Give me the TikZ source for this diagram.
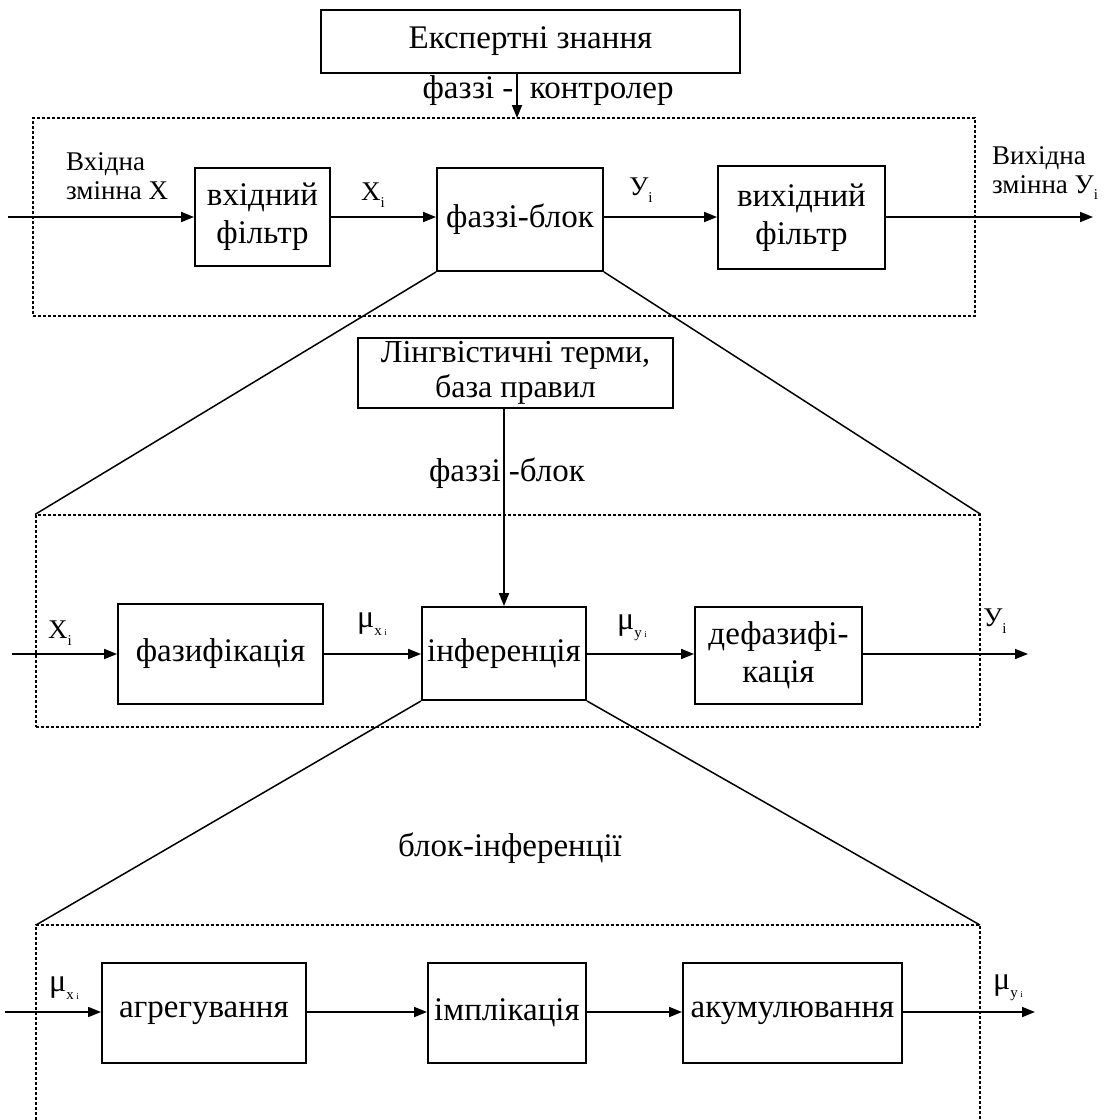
\documentclass[tikz,border=0pt]{standalone}
\usepackage{fontspec}
\setmainfont{Liberation Serif}
\usetikzlibrary{arrows.meta}
\newcommand{\mulab}[1]{{\fontsize{32}{32}\selectfont μ}\raisebox{-0.3em}{\fontsize{15}{15}\selectfont #1\,\fontsize{9}{9}\selectfont i}}
\newcommand{\subi}{\raisebox{-0.25em}{\fontsize{15}{15}\selectfont i}}
\begin{document}
\begin{tikzpicture}[x=1pt,y=-1pt,
  blk/.style={draw,line width=1.9pt,inner sep=0pt,align=center,font=\fontsize{33}{38}\selectfont},
  dbox/.style={draw,line width=1.4pt,dash pattern=on 3pt off 2pt,inner sep=0pt},
  conn/.style={line width=1.8pt,-{Triangle[length=13pt,width=10pt]}},
  plain/.style={line width=1.5pt},
  lbl/.style={inner sep=0pt,align=left,font=\fontsize{27}{29}\selectfont},
  captxt/.style={inner sep=0pt,font=\fontsize{33}{38}\selectfont}]
\useasboundingbox (0,0) rectangle (1110,1120);
% ---- top ----
\node[blk,minimum width=419pt,minimum height=63pt] (ek) at (530.5,41.5) {Експертні знання};
\node[captxt] (ctrl) at (548,91) {фаззі -\ \ контролер};
\node[dbox,minimum width=942pt,minimum height=198pt] (d1) at (504,217) {};
\coordinate (d1a) at (517,118);
\draw[conn] (ek.south -| d1a) -- (d1a);
\node[blk,minimum width=135pt,minimum height=98pt] (vf) at (262.5,217) {вхідний\\фільтр};
\node[blk,minimum width=166pt,minimum height=103pt] (fb) at (520,219.5) {фаззі-блок};
\node[blk,minimum width=167pt,minimum height=103pt] (vyf) at (801.5,217.5) {вихідний\\фільтр};
\coordinate (in1) at (8,217);
\coordinate (out1) at (1093,217);
\draw[conn] (in1) -- (vf.west |- in1);
\draw[conn] (vf.east |- in1) -- (fb.west |- in1);
\draw[conn] (fb.east |- in1) -- (vyf.west |- in1);
\draw[conn] (vyf.east |- in1) -- (out1);
\node[lbl,anchor=west] (inlab) at (66,176) {Вхідна\\змінна X};
\node[lbl,anchor=west] (outlab) at (992,173) {Вихідна\\змінна У\subi};
\node[lbl] (xi1) at (373,195) {X\subi};
\node[lbl] (yi1) at (641,190) {У\subi};
% ---- middle ----
\node[dbox,minimum width=944pt,minimum height=212pt] (d2) at (508,621) {};
\draw[plain] (fb.south west) -- (d2.north west);
\draw[plain] (fb.south east) -- (d2.north east);
\node[blk,minimum width=315pt,minimum height=70pt,font=\fontsize{32}{35}\selectfont] (lt) at (515.5,373) {Лінгвістичні терми,\\база правил};
\node[captxt] (fblab) at (507,473) {фаззі -блок};
\node[blk,minimum width=205pt,minimum height=100pt] (faz) at (220.5,654) {фазифікація};
\node[blk,minimum width=164pt,minimum height=93pt] (inf) at (504,653.5) {інференція};
\node[blk,minimum width=167pt,minimum height=97pt] (def) at (778.5,655.5) {дефазифі-\\кація};
\draw[conn] (lt.south -| inf.north) -- (inf.north);
\coordinate (in2) at (12,654);
\coordinate (out2) at (1028,654);
\draw[conn] (in2) -- (faz.west |- in2);
\draw[conn] (faz.east |- in2) -- (inf.west |- in2);
\draw[conn] (inf.east |- in2) -- (def.west |- in2);
\draw[conn] (def.east |- in2) -- (out2);
\node[lbl] (xi2) at (60,633) {X\subi};
\node[lbl] (mx2) at (372,624) {\mulab{x}};
\node[lbl] (my2) at (632,628) {\mulab{y}};
\node[lbl] (yi2) at (995,621) {У\subi};
% ---- bottom ----
\coordinate (d3nw) at (36,925);
\coordinate (d3ne) at (980,925);
\draw[line width=1.4pt,dash pattern=on 3pt off 2pt] (36,1130) -- (d3nw) -- (d3ne) -- (980,1130);
\draw[plain] (inf.south west) -- (d3nw);
\draw[plain] (inf.south east) -- (d3ne);
\node[captxt] (bilab) at (510,848) {блок-інференції};
\node[blk,minimum width=204pt,minimum height=100pt] (agr) at (204,1013) {агрегування};
\node[blk,minimum width=158pt,minimum height=100pt] (imp) at (507,1013) {імплікація};
\node[blk,minimum width=219pt,minimum height=100pt] (akum) at (792.5,1013) {акумулювання};
\coordinate (in3) at (5,1012);
\coordinate (out3) at (1035,1012);
\draw[conn] (in3) -- (agr.west |- in3);
\draw[conn] (agr.east |- in3) -- (imp.west |- in3);
\draw[conn] (imp.east |- in3) -- (akum.west |- in3);
\draw[conn] (akum.east |- in3) -- (out3);
\node[lbl] (mx3) at (64,988) {\mulab{x}};
\node[lbl] (my3) at (1008,988) {\mulab{y}};
\end{tikzpicture}
\end{document}
